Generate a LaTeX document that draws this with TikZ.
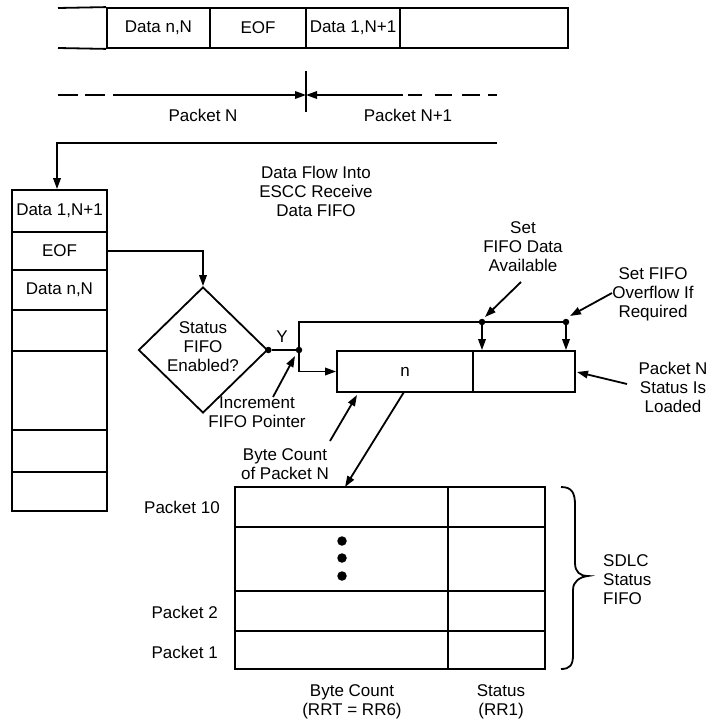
\documentclass[tikz,border=0pt]{standalone}
\usepackage{fontspec}
\setmainfont{Liberation Sans}
\usetikzlibrary{arrows.meta,shapes.geometric}
\begin{document}
\begin{tikzpicture}[x=1pt,y=-1pt,
  every node/.style={font=\fontsize{17}{19}\selectfont, inner sep=0pt},
  ln/.style={line width=1.8pt},
  arr/.style={line width=1.8pt,-{Triangle[length=11pt,width=7.5pt]}},
  cellbox/.style={draw,line width=1.8pt,rectangle,inner sep=0pt},
  lbl/.style={align=center},
  dot/.style={circle,fill,inner sep=0pt,minimum size=6.5pt},
  bigdot/.style={circle,fill,inner sep=0pt,minimum size=9.5pt}]
\useasboundingbox (0,0) rectangle (708,723);

% top strip
\node[cellbox, minimum width=103pt, minimum height=40pt] (s1) at (158.5,28) {Data n,N};
\node[cellbox, minimum width=96pt, minimum height=40pt] (s2) at (258,28) {EOF};
\node[cellbox, minimum width=94pt, minimum height=40pt] (s3) at (353,28) {Data 1,N+1};
\node[cellbox, minimum width=168pt, minimum height=40pt] (s4) at (484,28) {};
\coordinate (sTL) at (58,8);
\coordinate (sBL) at (58,48);
\draw[ln] (sTL) -- (s1.north west);
\draw[ln] (sBL) -- (s1.south west);

% packet boundary
\coordinate (tickT) at (306,71);
\coordinate (tickB) at (306,112);
\draw[ln] (tickT) -- (tickB);
\coordinate (pkL) at (113,95);
\coordinate (pkM) at (306,95);
\coordinate (pkR) at (403,95);
\draw[arr] (pkL) -- (pkM);
\draw[arr] (pkR) -- (pkM);
\foreach \a/\b in {58/78,85/105,408/422,435/452,462/480,488/497}
  \draw[ln] (\a,95) -- (\b,95);
\node (pN) at (203,115) {Packet N};
\node (pN1) at (408,115) {Packet N+1};

% receive data FIFO column
\node[cellbox, minimum width=95pt, minimum height=42pt] (c1) at (59.5,211) {Data 1,N+1};
\node[cellbox, minimum width=95pt, minimum height=38pt] (c2) at (59.5,251) {EOF};
\node[cellbox, minimum width=95pt, minimum height=40pt] (c3) at (59.5,290) {Data n,N};
\node[cellbox, minimum width=95pt, minimum height=41pt] (c4) at (59.5,330.5) {};
\node[cellbox, minimum width=95pt, minimum height=79pt] (c5) at (59.5,390.5) {};
\node[cellbox, minimum width=95pt, minimum height=42pt] (c6) at (59.5,451) {};
\node[cellbox, minimum width=95pt, minimum height=39pt] (c7) at (59.5,491.5) {};

\coordinate (fR) at (497,143);
\coordinate (fL) at (57,143);
\draw[arr] (fR) -- (fL) -- (fL |- c1.north);
\node[lbl] (flow) at (316,191) {Data Flow Into\\ESCC Receive\\Data FIFO};

% decision
\node[diamond, draw, line width=1.8pt, minimum width=129pt, minimum height=126pt, inner sep=0pt] (dia) at (203,350) {};
\node[lbl] (diat) at (203,347) {Status\\FIFO\\Enabled?};
\draw[arr] (c2.east) -| (dia.north);

\node[dot] (d0) at (dia.east) {};
\node[dot] (jn) at (299,350) {};
\draw[ln] (d0) -- (jn);
\node (Y) at (282,337) {Y};
\node[dot] (d1) at (482,322) {};
\node[dot] (d2) at (566,322) {};
\draw[ln] (jn.center) |- (d1.center) -- (d2.center);

% packet status register
\node[cellbox, minimum width=136pt, minimum height=41pt] (pb1) at (405,371.5) {n};
\node[cellbox, minimum width=102pt, minimum height=41pt] (pb2) at (524,371.5) {};
\draw[arr] (jn.center) |- (pb1.west);
\draw[arr] (d1.center) -- (d1.center |- pb2.north);
\draw[arr] (d2.center) -- (d2.center |- pb2.north);

% annotations
\node[lbl] (setA) at (523,247) {Set\\FIFO Data\\Available};
\coordinate (aA1) at (521,282);
\coordinate (aA2) at (485,317);
\draw[arr] (aA1) -- (aA2);
\node[lbl] (setO) at (653,294) {Set FIFO\\Overflow If\\Required};
\coordinate (aO1) at (612,293);
\coordinate (aO2) at (570,316);
\draw[arr] (aO1) -- (aO2);
\node[lbl] (load) at (673,387) {Packet N\\Status Is\\Loaded};
\coordinate (aL1) at (627,384);
\coordinate (aL2) at (577,372);
\draw[arr] (aL1) -- (aL2);
\node[lbl] (inc) at (257,412) {Increment\\FIFO Pointer};
\coordinate (aI1) at (273,397);
\coordinate (aI2) at (295,356);
\draw[arr] (aI1) -- (aI2);
\node[lbl] (bc) at (285,464) {Byte Count\\of Packet N};
\coordinate (aB1) at (330,441);
\coordinate (aB2) at (357,395);
\draw[arr] (aB1) -- (aB2);

% status FIFO table
\node[cellbox, minimum width=213pt, minimum height=40pt] (t11) at (341.5,507) {};
\node[cellbox, minimum width=97pt, minimum height=40pt] (t12) at (496.5,507) {};
\node[cellbox, minimum width=213pt, minimum height=64pt] (t21) at (341.5,559) {};
\node[cellbox, minimum width=97pt, minimum height=64pt] (t22) at (496.5,559) {};
\node[cellbox, minimum width=213pt, minimum height=40pt] (t31) at (341.5,611) {};
\node[cellbox, minimum width=97pt, minimum height=40pt] (t32) at (496.5,611) {};
\node[cellbox, minimum width=213pt, minimum height=38pt] (t41) at (341.5,650) {};
\node[cellbox, minimum width=97pt, minimum height=38pt] (t42) at (496.5,650) {};
\node[bigdot] (e1) at (342,541) {};
\node[bigdot] (e2) at (342,558) {};
\node[bigdot] (e3) at (342,576) {};

\coordinate (bx) at (404,392);
\coordinate (tt) at (345,487);
\draw[arr] (bx) -- (tt);

\node[anchor=east] (p10) at (220,507) {Packet 10};
\node[anchor=east] (p2) at (218,612) {Packet 2};
\node[anchor=east] (p1) at (218,652) {Packet 1};

\draw[ln] (561,487) .. controls (572,487) and (575,493) .. (575,505) -- (575,563)
  .. controls (575,572) and (580,576) .. (588,576)
  .. controls (580,577) and (573,581) .. (573,590) -- (573,655)
  .. controls (573,665) and (570,669) .. (561,669);
\node[lbl, align=left, anchor=west] (sdlc) at (603,580) {SDLC\\Status\\FIFO};

\node[lbl] (bcl) at (352,702) {Byte Count\\(RRT = RR6)};
\node[lbl] (stl) at (501,702) {Status\\(RR1)};
\end{tikzpicture}
\end{document}
